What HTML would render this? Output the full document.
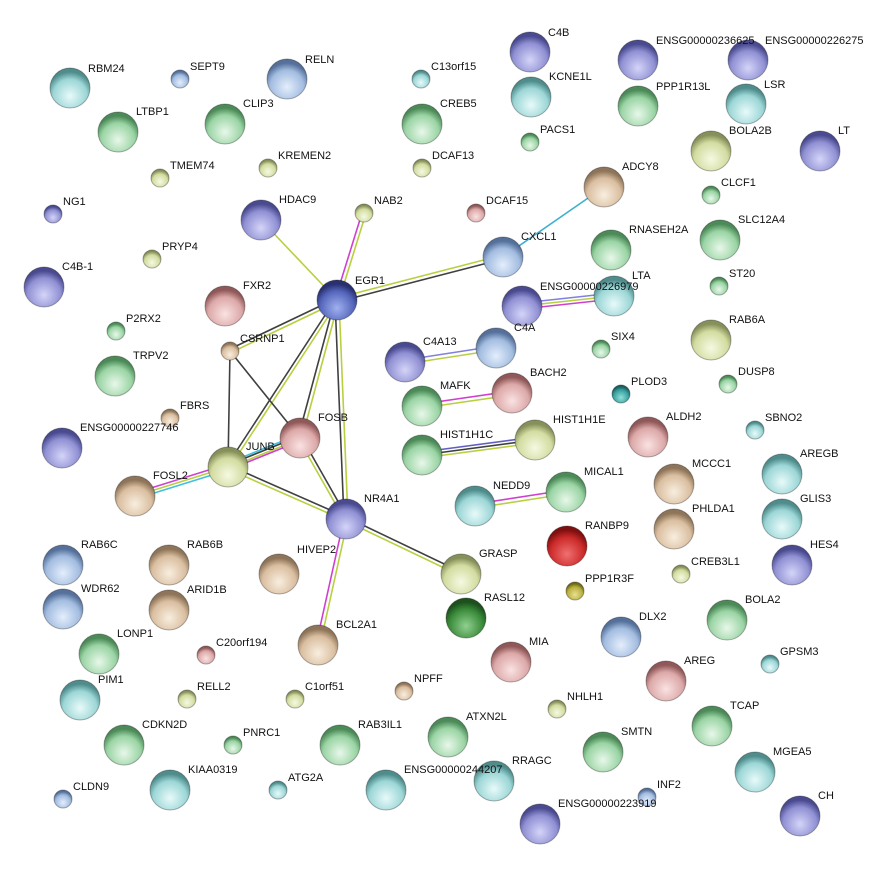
<!DOCTYPE html>
<html><head><meta charset="utf-8"><style>
body{margin:0;background:#fff}
svg text{font-family:"Liberation Sans",sans-serif;font-size:11px;fill:#111}
.nodes circle{stroke:rgba(0,0,0,.3);stroke-width:1}
</style></head><body>
<svg width="889" height="871" xmlns="http://www.w3.org/2000/svg">
<defs>
<radialGradient id="p" cx="50%" cy="70%" r="60%"><stop offset="0" stop-color="#d4d4f8"/><stop offset=".7" stop-color="#9090d4"/><stop offset="1" stop-color="#4a4a90"/></radialGradient>
<radialGradient id="db" cx="50%" cy="70%" r="60%"><stop offset="0" stop-color="#a0b0f0"/><stop offset=".7" stop-color="#5566bb"/><stop offset="1" stop-color="#283070"/></radialGradient>
<radialGradient id="b" cx="50%" cy="70%" r="60%"><stop offset="0" stop-color="#e4eefc"/><stop offset=".7" stop-color="#a2bce0"/><stop offset="1" stop-color="#55709a"/></radialGradient>
<radialGradient id="t" cx="50%" cy="70%" r="60%"><stop offset="0" stop-color="#e8fafa"/><stop offset=".7" stop-color="#9cd6d6"/><stop offset="1" stop-color="#4f8c8c"/></radialGradient>
<radialGradient id="g" cx="50%" cy="70%" r="60%"><stop offset="0" stop-color="#e8f8ea"/><stop offset=".7" stop-color="#9ad4a4"/><stop offset="1" stop-color="#4c8a58"/></radialGradient>
<radialGradient id="o" cx="50%" cy="70%" r="60%"><stop offset="0" stop-color="#f6f9e2"/><stop offset=".7" stop-color="#d2dca0"/><stop offset="1" stop-color="#86905a"/></radialGradient>
<radialGradient id="s" cx="50%" cy="70%" r="60%"><stop offset="0" stop-color="#fae2e2"/><stop offset=".7" stop-color="#dca8a8"/><stop offset="1" stop-color="#905858"/></radialGradient>
<radialGradient id="n" cx="50%" cy="70%" r="60%"><stop offset="0" stop-color="#f8eedf"/><stop offset=".7" stop-color="#dabea0"/><stop offset="1" stop-color="#8e7458"/></radialGradient>
<radialGradient id="r" cx="50%" cy="70%" r="60%"><stop offset="0" stop-color="#f07070"/><stop offset=".7" stop-color="#cc2a2a"/><stop offset="1" stop-color="#801010"/></radialGradient>
<radialGradient id="dg" cx="50%" cy="70%" r="60%"><stop offset="0" stop-color="#90d090"/><stop offset=".7" stop-color="#3a8a3a"/><stop offset="1" stop-color="#1c501c"/></radialGradient>
<radialGradient id="yo" cx="50%" cy="70%" r="60%"><stop offset="0" stop-color="#e8e090"/><stop offset=".7" stop-color="#b8b040"/><stop offset="1" stop-color="#706a18"/></radialGradient>
<radialGradient id="tc" cx="50%" cy="70%" r="60%"><stop offset="0" stop-color="#90e0d8"/><stop offset=".7" stop-color="#3aa0a0"/><stop offset="1" stop-color="#1a6060"/></radialGradient>
</defs>
<g fill="none" stroke-width="1.6">
<line x1="335" y1="300" x2="362" y2="213" stroke="#d040d0"/><line x1="339" y1="300" x2="366" y2="213" stroke="#b8d040"/>
<line x1="337" y1="300" x2="261" y2="220" stroke="#b8d040"/>
<line x1="337" y1="298" x2="503" y2="255" stroke="#b8d040"/><line x1="337" y1="302" x2="503" y2="259" stroke="#404040"/>
<line x1="337" y1="298" x2="230" y2="349" stroke="#404040"/><line x1="337" y1="302" x2="230" y2="353" stroke="#b8d040"/>
<line x1="335" y1="300" x2="226" y2="467" stroke="#404040"/><line x1="339" y1="300" x2="230" y2="467" stroke="#b8d040"/>
<line x1="335" y1="300" x2="298" y2="438" stroke="#404040"/><line x1="339" y1="300" x2="302" y2="438" stroke="#b8d040"/>
<line x1="335" y1="300" x2="344" y2="519" stroke="#404040"/><line x1="339" y1="300" x2="348" y2="519" stroke="#b8d040"/>
<line x1="230" y1="351" x2="228" y2="467" stroke="#404040"/>
<line x1="230" y1="351" x2="300" y2="438" stroke="#404040"/>
<line x1="228" y1="463" x2="300" y2="434" stroke="#40c0e0"/><line x1="228" y1="465" x2="300" y2="436" stroke="#404040"/><line x1="228" y1="468" x2="300" y2="439" stroke="#b8d040"/><line x1="228" y1="470" x2="300" y2="441" stroke="#d040d0"/>
<line x1="228" y1="464" x2="135" y2="493" stroke="#d040d0"/><line x1="228" y1="467" x2="135" y2="496" stroke="#b8d040"/><line x1="228" y1="470" x2="135" y2="499" stroke="#40c0e0"/>
<line x1="228" y1="465" x2="346" y2="517" stroke="#404040"/><line x1="228" y1="469" x2="346" y2="521" stroke="#b8d040"/>
<line x1="298" y1="438" x2="344" y2="519" stroke="#b8d040"/><line x1="302" y1="438" x2="348" y2="519" stroke="#404040"/>
<line x1="346" y1="517" x2="461" y2="572" stroke="#404040"/><line x1="346" y1="521" x2="461" y2="576" stroke="#b8d040"/>
<line x1="344" y1="519" x2="316" y2="645" stroke="#d040d0"/><line x1="348" y1="519" x2="320" y2="645" stroke="#b8d040"/>
<line x1="604" y1="187" x2="503" y2="257" stroke="#40b0d0"/>
<line x1="522" y1="303" x2="614" y2="293" stroke="#8080e0"/><line x1="522" y1="306" x2="614" y2="296" stroke="#b8d040"/><line x1="522" y1="309" x2="614" y2="299" stroke="#d040d0"/>
<line x1="405" y1="360" x2="496" y2="346" stroke="#8080e0"/><line x1="405" y1="364" x2="496" y2="350" stroke="#b8d040"/>
<line x1="422" y1="404" x2="512" y2="391" stroke="#d040d0"/><line x1="422" y1="408" x2="512" y2="395" stroke="#b8d040"/>
<line x1="422" y1="452" x2="535" y2="437" stroke="#6060c0"/><line x1="422" y1="455" x2="535" y2="440" stroke="#404040"/><line x1="422" y1="458" x2="535" y2="443" stroke="#b8d040"/>
<line x1="475" y1="504" x2="566" y2="490" stroke="#d040d0"/><line x1="475" y1="508" x2="566" y2="494" stroke="#b8d040"/>
</g>
<g class="nodes">
<circle cx="70" cy="88" r="20" fill="url(#t)"/><circle cx="180" cy="79" r="9" fill="url(#b)"/><circle cx="287" cy="79" r="20" fill="url(#b)"/><circle cx="421" cy="79" r="9" fill="url(#t)"/>
<circle cx="530" cy="52" r="20" fill="url(#p)"/><circle cx="638" cy="60" r="20" fill="url(#p)"/><circle cx="748" cy="60" r="20" fill="url(#p)"/>
<circle cx="531" cy="97" r="20" fill="url(#t)"/><circle cx="638" cy="106" r="20" fill="url(#g)"/><circle cx="746" cy="104" r="20" fill="url(#t)"/>
<circle cx="118" cy="132" r="20" fill="url(#g)"/><circle cx="225" cy="124" r="20" fill="url(#g)"/><circle cx="422" cy="124" r="20" fill="url(#g)"/><circle cx="530" cy="142" r="9" fill="url(#g)"/>
<circle cx="711" cy="151" r="20" fill="url(#o)"/><circle cx="820" cy="151" r="20" fill="url(#p)"/>
<circle cx="160" cy="178" r="9" fill="url(#o)"/><circle cx="268" cy="168" r="9" fill="url(#o)"/><circle cx="422" cy="168" r="9" fill="url(#o)"/>
<circle cx="604" cy="187" r="20" fill="url(#n)"/><circle cx="711" cy="195" r="9" fill="url(#g)"/><circle cx="53" cy="214" r="9" fill="url(#p)"/>
<circle cx="261" cy="220" r="20" fill="url(#p)"/><circle cx="364" cy="213" r="9" fill="url(#o)"/><circle cx="476" cy="213" r="9" fill="url(#s)"/>
<circle cx="503" cy="257" r="20" fill="url(#b)"/><circle cx="611" cy="250" r="20" fill="url(#g)"/><circle cx="720" cy="240" r="20" fill="url(#g)"/>
<circle cx="152" cy="259" r="9" fill="url(#o)"/><circle cx="44" cy="287" r="20" fill="url(#p)"/><circle cx="337" cy="300" r="20" fill="url(#db)"/>
<circle cx="614" cy="296" r="20" fill="url(#t)"/><circle cx="522" cy="306" r="20" fill="url(#p)"/><circle cx="719" cy="286" r="9" fill="url(#g)"/>
<circle cx="225" cy="306" r="20" fill="url(#s)"/><circle cx="116" cy="331" r="9" fill="url(#g)"/><circle cx="230" cy="351" r="9" fill="url(#n)"/>
<circle cx="405" cy="362" r="20" fill="url(#p)"/><circle cx="496" cy="348" r="20" fill="url(#b)"/><circle cx="601" cy="349" r="9" fill="url(#g)"/><circle cx="711" cy="340" r="20" fill="url(#o)"/>
<circle cx="115" cy="376" r="20" fill="url(#g)"/><circle cx="621" cy="394" r="9" fill="url(#tc)"/><circle cx="728" cy="384" r="9" fill="url(#g)"/>
<circle cx="422" cy="406" r="20" fill="url(#g)"/><circle cx="512" cy="393" r="20" fill="url(#s)"/><circle cx="170" cy="418" r="9" fill="url(#n)"/>
<circle cx="300" cy="438" r="20" fill="url(#s)"/><circle cx="62" cy="448" r="20" fill="url(#p)"/><circle cx="648" cy="437" r="20" fill="url(#s)"/><circle cx="755" cy="430" r="9" fill="url(#t)"/>
<circle cx="535" cy="440" r="20" fill="url(#o)"/><circle cx="422" cy="455" r="20" fill="url(#g)"/><circle cx="228" cy="467" r="20" fill="url(#o)"/>
<circle cx="782" cy="474" r="20" fill="url(#t)"/><circle cx="674" cy="484" r="20" fill="url(#n)"/><circle cx="135" cy="496" r="20" fill="url(#n)"/>
<circle cx="475" cy="506" r="20" fill="url(#t)"/><circle cx="566" cy="492" r="20" fill="url(#g)"/><circle cx="346" cy="519" r="20" fill="url(#p)"/>
<circle cx="782" cy="519" r="20" fill="url(#t)"/><circle cx="674" cy="529" r="20" fill="url(#n)"/><circle cx="567" cy="546" r="20" fill="url(#r)"/>
<circle cx="681" cy="574" r="9" fill="url(#o)"/><circle cx="792" cy="565" r="20" fill="url(#p)"/>
<circle cx="63" cy="565" r="20" fill="url(#b)"/><circle cx="169" cy="565" r="20" fill="url(#n)"/><circle cx="279" cy="574" r="20" fill="url(#n)"/><circle cx="461" cy="574" r="20" fill="url(#o)"/>
<circle cx="63" cy="609" r="20" fill="url(#b)"/><circle cx="169" cy="610" r="20" fill="url(#n)"/><circle cx="575" cy="591" r="9" fill="url(#yo)"/>
<circle cx="466" cy="618" r="20" fill="url(#dg)"/><circle cx="621" cy="637" r="20" fill="url(#b)"/><circle cx="727" cy="620" r="20" fill="url(#g)"/>
<circle cx="99" cy="654" r="20" fill="url(#g)"/><circle cx="318" cy="645" r="20" fill="url(#n)"/><circle cx="206" cy="655" r="9" fill="url(#s)"/>
<circle cx="511" cy="662" r="20" fill="url(#s)"/><circle cx="770" cy="664" r="9" fill="url(#t)"/><circle cx="80" cy="700" r="20" fill="url(#t)"/>
<circle cx="666" cy="681" r="20" fill="url(#s)"/><circle cx="187" cy="699" r="9" fill="url(#o)"/><circle cx="295" cy="699" r="9" fill="url(#o)"/>
<circle cx="404" cy="691" r="9" fill="url(#n)"/><circle cx="557" cy="709" r="9" fill="url(#o)"/><circle cx="448" cy="737" r="20" fill="url(#g)"/>
<circle cx="712" cy="726" r="20" fill="url(#g)"/><circle cx="124" cy="745" r="20" fill="url(#g)"/><circle cx="233" cy="745" r="9" fill="url(#g)"/>
<circle cx="340" cy="745" r="20" fill="url(#g)"/><circle cx="603" cy="752" r="20" fill="url(#g)"/><circle cx="755" cy="772" r="20" fill="url(#t)"/>
<circle cx="170" cy="790" r="20" fill="url(#t)"/><circle cx="278" cy="790" r="9" fill="url(#t)"/><circle cx="386" cy="790" r="20" fill="url(#t)"/>
<circle cx="494" cy="781" r="20" fill="url(#t)"/><circle cx="647" cy="797" r="9" fill="url(#b)"/><circle cx="63" cy="799" r="9" fill="url(#b)"/>
<circle cx="540" cy="824" r="20" fill="url(#p)"/><circle cx="800" cy="816" r="20" fill="url(#p)"/>
</g>
<g>
<text x="88" y="72">RBM24</text><text x="190" y="70">SEPT9</text><text x="305" y="63">RELN</text><text x="431" y="70">C13orf15</text>
<text x="548" y="36">C4B</text><text x="656" y="44">ENSG00000236625</text><text x="765" y="44">ENSG00000226275</text>
<text x="549" y="80">KCNE1L</text><text x="656" y="90">PPP1R13L</text><text x="764" y="88">LSR</text>
<text x="136" y="115">LTBP1</text><text x="243" y="107">CLIP3</text><text x="440" y="107">CREB5</text><text x="540" y="133">PACS1</text>
<text x="729" y="134">BOLA2B</text><text x="838" y="134">LT</text>
<text x="170" y="169">TMEM74</text><text x="278" y="159">KREMEN2</text><text x="432" y="159">DCAF13</text>
<text x="622" y="170">ADCY8</text><text x="721" y="186">CLCF1</text><text x="63" y="205">NG1</text>
<text x="279" y="203">HDAC9</text><text x="374" y="204">NAB2</text><text x="486" y="204">DCAF15</text>
<text x="521" y="240">CXCL1</text><text x="629" y="233">RNASEH2A</text><text x="738" y="223">SLC12A4</text>
<text x="162" y="250">PRYP4</text><text x="62" y="270">C4B-1</text><text x="355" y="284">EGR1</text>
<text x="632" y="279">LTA</text><text x="540" y="290">ENSG00000226979</text><text x="729" y="277">ST20</text>
<text x="243" y="289">FXR2</text><text x="126" y="322">P2RX2</text><text x="240" y="342">CSRNP1</text>
<text x="423" y="345">C4A13</text><text x="514" y="331">C4A</text><text x="611" y="340">SIX4</text><text x="729" y="323">RAB6A</text>
<text x="133" y="359">TRPV2</text><text x="631" y="385">PLOD3</text><text x="738" y="375">DUSP8</text>
<text x="440" y="389">MAFK</text><text x="530" y="376">BACH2</text><text x="180" y="409">FBRS</text>
<text x="318" y="421">FOSB</text><text x="80" y="431">ENSG00000227746</text><text x="666" y="420">ALDH2</text><text x="765" y="421">SBNO2</text>
<text x="553" y="423">HIST1H1E</text><text x="440" y="438">HIST1H1C</text><text x="246" y="450">JUNB</text>
<text x="800" y="457">AREGB</text><text x="692" y="467">MCCC1</text><text x="153" y="479">FOSL2</text>
<text x="493" y="489">NEDD9</text><text x="584" y="475">MICAL1</text><text x="364" y="502">NR4A1</text>
<text x="800" y="502">GLIS3</text><text x="692" y="512">PHLDA1</text><text x="585" y="529">RANBP9</text>
<text x="691" y="565">CREB3L1</text><text x="810" y="548">HES4</text>
<text x="81" y="548">RAB6C</text><text x="187" y="548">RAB6B</text><text x="297" y="553">HIVEP2</text><text x="479" y="557">GRASP</text>
<text x="81" y="592">WDR62</text><text x="187" y="593">ARID1B</text><text x="585" y="582">PPP1R3F</text>
<text x="484" y="601">RASL12</text><text x="639" y="620">DLX2</text><text x="745" y="603">BOLA2</text>
<text x="117" y="637">LONP1</text><text x="336" y="628">BCL2A1</text><text x="216" y="646">C20orf194</text>
<text x="529" y="645">MIA</text><text x="780" y="655">GPSM3</text><text x="98" y="683">PIM1</text>
<text x="684" y="664">AREG</text><text x="197" y="690">RELL2</text><text x="305" y="690">C1orf51</text>
<text x="414" y="682">NPFF</text><text x="567" y="700">NHLH1</text><text x="466" y="720">ATXN2L</text>
<text x="730" y="709">TCAP</text><text x="142" y="728">CDKN2D</text><text x="243" y="736">PNRC1</text>
<text x="358" y="728">RAB3IL1</text><text x="621" y="735">SMTN</text><text x="773" y="755">MGEA5</text>
<text x="188" y="773">KIAA0319</text><text x="288" y="781">ATG2A</text><text x="404" y="773">ENSG00000244207</text>
<text x="512" y="764">RRAGC</text><text x="657" y="788">INF2</text><text x="73" y="790">CLDN9</text>
<text x="558" y="807">ENSG00000223919</text><text x="818" y="799">CH</text>
</g>
</svg>
</body></html>
